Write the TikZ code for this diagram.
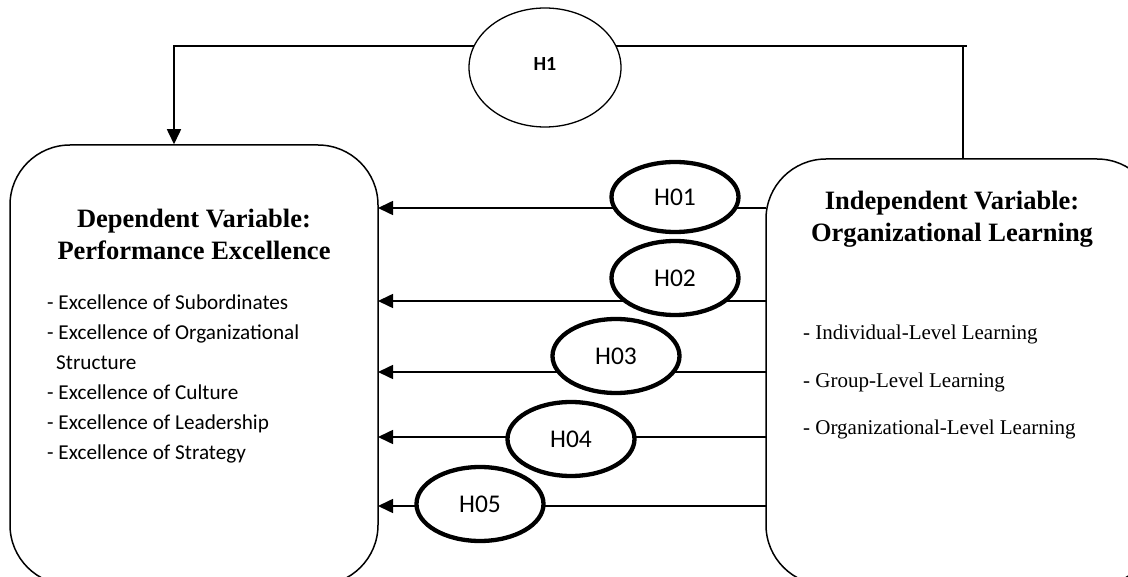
\documentclass[tikz,border=0pt]{standalone}
\usepackage{fontspec}
\setmainfont{Liberation Serif}
\newfontfamily\calfont{Carlito}
\usetikzlibrary{arrows.meta,shapes.geometric}
\begin{document}
\begin{tikzpicture}[x=1pt,y=-1pt,
  box/.style={draw,line width=1.5pt,rectangle,rounded corners=60pt,inner sep=0pt},
  hyp/.style={draw,line width=4.3pt,ellipse,fill=white,inner sep=0pt,minimum width=127pt,minimum height=70pt,font=\calfont\fontsize{25.5}{30}\selectfont},
  conn/.style={line width=1.6pt,-{Triangle[length=15pt,width=14pt]}},
  ttl/.style={anchor=base,font=\fontsize{26.5}{32}\selectfont\bfseries,inner sep=0pt},
  litem/.style={anchor=base west,font=\calfont\fontsize{21.2}{26}\selectfont,inner sep=0pt},
  ritem/.style={anchor=base west,font=\fontsize{21}{26}\selectfont,inner sep=0pt}]
\useasboundingbox (0,0) rectangle (1128,577);
\clip (0,0) rectangle (1128,577);
% boxes
\node[box,minimum width=368pt,minimum height=440pt] (L) at (194,365) {};
\node[box,minimum width=391pt,minimum height=426pt] (R) at (961.5,372) {};
% titles
\node[ttl] (lt1) at (194,228) {Dependent Variable:};
\node[ttl] (lt2) at (194,260) {Performance Excellence};
\node[ttl] (rt1) at (952,210) {Independent Variable:};
\node[ttl] (rt2) at (952,242) {Organizational Learning};
% left items
\node[litem] (li1) at (47,310) {- Excellence of Subordinates};
\node[litem] (li2) at (47,340) {- Excellence of Organizational};
\node[litem] (li3) at (56,370) {Structure};
\node[litem] (li4) at (47,400) {- Excellence of Culture};
\node[litem] (li5) at (47,430) {- Excellence of Leadership};
\node[litem] (li6) at (47,460) {- Excellence of Strategy};
% right items
\node[ritem] (ri1) at (803,340) {- Individual-Level Learning};
\node[ritem] (ri2) at (803,388) {- Group-Level Learning};
\node[ritem] (ri3) at (803,435) {- Organizational-Level Learning};
% top H1 connector
\coordinate (c1) at (963,46);
\coordinate (c2) at (174,46);
\draw[line width=1.5pt] (c1 |- R.north) -- (c1) -- ++(4,0);
\draw[conn] (c1) -- (c2) -- (c2 |- L.north);
\node[draw,ellipse,line width=1.3pt,fill=white,minimum width=152pt,minimum height=119pt,inner sep=0pt,
  font=\calfont\bfseries\fontsize{20}{24}\selectfont] (H1) at (545,67.5) {\raisebox{6pt}{H1}};
% hypothesis arrows
\foreach \i/\y in {1/208,2/301,3/372,4/437,5/506}{
  \coordinate (r\i) at (766,\y);
  \coordinate (l\i) at (378,\y);
  \draw[conn] (r\i) -- (l\i);
}
\node[hyp] (H01) at (675,197) {H01};
\node[hyp,minimum height=74pt] (H02) at (675,278) {H02};
\node[hyp,minimum height=74pt] (H03) at (616,356) {H03};
\node[hyp,minimum height=74pt] (H04) at (571,439) {H04};
\node[hyp,minimum height=74pt] (H05) at (480,504) {H05};
\end{tikzpicture}
\end{document}
